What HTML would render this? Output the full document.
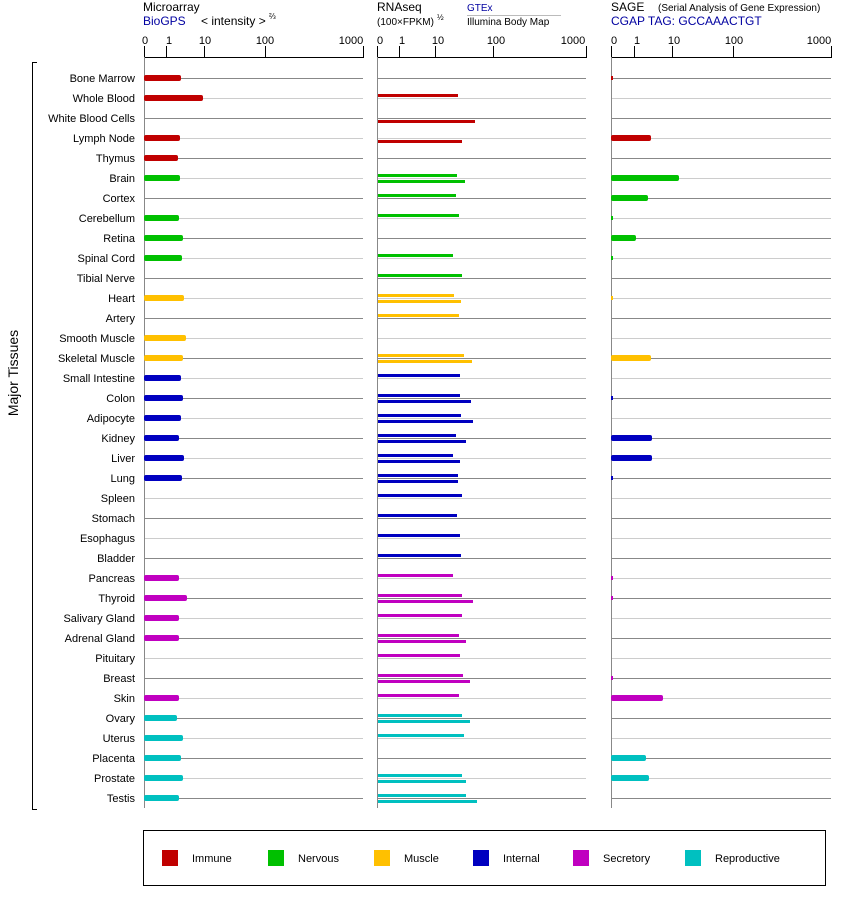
<!DOCTYPE html>
<html><head><meta charset="utf-8"><style>body{margin:0;background:#fff}svg{display:block;font-family:"Liberation Sans",sans-serif}</style></head>
<body>
<svg width="842" height="900" xmlns="http://www.w3.org/2000/svg">
<defs>
<pattern id="rl" patternUnits="userSpaceOnUse" x="0" y="78" width="10" height="40">
<rect x="0" y="0" width="10" height="1" fill="#888"/><rect x="0" y="20" width="10" height="1" fill="#ccc"/>
</pattern>
</defs>
<rect x="144" y="78" width="219" height="721" fill="url(#rl)"/>
<rect x="377" y="78" width="209" height="721" fill="url(#rl)"/>
<rect x="611" y="78" width="220" height="721" fill="url(#rl)"/>
<!-- headers -->
<text x="143" y="11" font-size="12">Microarray</text>
<text x="143" y="25" font-size="12" fill="#0000a0">BioGPS</text>
<text x="201" y="25" font-size="12">&lt; intensity &gt;</text><text x="269" y="19" font-size="8">⅔</text>
<text x="377" y="11" font-size="12">RNAseq</text>
<text x="377" y="25" font-size="10">(100×FPKM)</text><text x="437" y="20" font-size="8">½</text>
<text x="467" y="11" font-size="10" fill="#0000a0">GTEx</text>
<line x1="467" y1="15.5" x2="561" y2="15.5" stroke="#bbb"/>
<text x="467" y="25" font-size="10">Illumina Body Map</text>
<text x="611" y="11" font-size="12">SAGE</text>
<text x="658" y="11" font-size="10">(Serial Analysis of Gene Expression)</text>
<text x="611" y="25" font-size="12" fill="#0000a0">CGAP TAG: GCCAAACTGT</text>
<!-- axes -->
<g stroke="#000" stroke-width="1">
<line x1="144" y1="57.5" x2="364" y2="57.5"/><line x1="377" y1="57.5" x2="587" y2="57.5"/><line x1="611" y1="57.5" x2="832" y2="57.5"/>
<line x1="144.5" y1="46" x2="144.5" y2="58"/><line x1="166.5" y1="46" x2="166.5" y2="58"/><line x1="204.5" y1="46" x2="204.5" y2="58"/><line x1="265.5" y1="46" x2="265.5" y2="58"/><line x1="363.5" y1="46" x2="363.5" y2="58"/>
<line x1="377.5" y1="46" x2="377.5" y2="58"/><line x1="399.5" y1="46" x2="399.5" y2="58"/><line x1="435.5" y1="46" x2="435.5" y2="58"/><line x1="493.5" y1="46" x2="493.5" y2="58"/><line x1="586.5" y1="46" x2="586.5" y2="58"/>
<line x1="611.5" y1="46" x2="611.5" y2="58"/><line x1="634.5" y1="46" x2="634.5" y2="58"/><line x1="672.5" y1="46" x2="672.5" y2="58"/><line x1="733.5" y1="46" x2="733.5" y2="58"/><line x1="831.5" y1="46" x2="831.5" y2="58"/>
</g>
<g stroke="#888"><line x1="144.5" y1="57" x2="144.5" y2="808"/><line x1="377.5" y1="57" x2="377.5" y2="808"/><line x1="611.5" y1="57" x2="611.5" y2="808"/></g>
<g font-size="11" text-anchor="middle">
<text x="145" y="44">0</text><text x="169" y="44">1</text><text x="205" y="44">10</text><text x="265" y="44">100</text><text x="351" y="44">1000</text>
<text x="380" y="44">0</text><text x="402" y="44">1</text><text x="438" y="44">10</text><text x="496" y="44">100</text><text x="573" y="44">1000</text>
<text x="614" y="44">0</text><text x="637" y="44">1</text><text x="674" y="44">10</text><text x="734" y="44">100</text><text x="819" y="44">1000</text>
</g>
<!-- bracket -->
<g stroke="#000"><line x1="32.5" y1="62" x2="32.5" y2="810"/><line x1="32" y1="62.5" x2="37" y2="62.5"/><line x1="32" y1="809.5" x2="37" y2="809.5"/></g>
<text transform="translate(18,373) rotate(-90)" font-size="14" text-anchor="middle">Major Tissues</text>
<!-- labels -->
<g font-size="11" text-anchor="end">
<text x="135" y="82">Bone Marrow</text><text x="135" y="102">Whole Blood</text><text x="135" y="122">White Blood Cells</text><text x="135" y="142">Lymph Node</text><text x="135" y="162">Thymus</text>
<text x="135" y="182">Brain</text><text x="135" y="202">Cortex</text><text x="135" y="222">Cerebellum</text><text x="135" y="242">Retina</text><text x="135" y="262">Spinal Cord</text><text x="135" y="282">Tibial Nerve</text>
<text x="135" y="302">Heart</text><text x="135" y="322">Artery</text><text x="135" y="342">Smooth Muscle</text><text x="135" y="362">Skeletal Muscle</text>
<text x="135" y="382">Small Intestine</text><text x="135" y="402">Colon</text><text x="135" y="422">Adipocyte</text><text x="135" y="442">Kidney</text><text x="135" y="462">Liver</text><text x="135" y="482">Lung</text><text x="135" y="502">Spleen</text><text x="135" y="522">Stomach</text><text x="135" y="542">Esophagus</text><text x="135" y="562">Bladder</text>
<text x="135" y="582">Pancreas</text><text x="135" y="602">Thyroid</text><text x="135" y="622">Salivary Gland</text><text x="135" y="642">Adrenal Gland</text><text x="135" y="662">Pituitary</text><text x="135" y="682">Breast</text><text x="135" y="702">Skin</text>
<text x="135" y="722">Ovary</text><text x="135" y="742">Uterus</text><text x="135" y="762">Placenta</text><text x="135" y="782">Prostate</text><text x="135" y="802">Testis</text>
</g>
<!-- microarray bars -->
<g>
<g fill="#c00000"><rect x="144" y="75" width="37" height="6" rx="2"/><rect x="144" y="95" width="59" height="6" rx="2"/><rect x="144" y="135" width="36" height="6" rx="2"/><rect x="144" y="155" width="34" height="6" rx="2"/></g>
<g fill="#00c000"><rect x="144" y="175" width="36" height="6" rx="2"/><rect x="144" y="215" width="35" height="6" rx="2"/><rect x="144" y="235" width="39" height="6" rx="2"/><rect x="144" y="255" width="38" height="6" rx="2"/></g>
<g fill="#ffc000"><rect x="144" y="295" width="40" height="6" rx="2"/><rect x="144" y="335" width="42" height="6" rx="2"/><rect x="144" y="355" width="39" height="6" rx="2"/></g>
<g fill="#0000c0"><rect x="144" y="375" width="37" height="6" rx="2"/><rect x="144" y="395" width="39" height="6" rx="2"/><rect x="144" y="415" width="37" height="6" rx="2"/><rect x="144" y="435" width="35" height="6" rx="2"/><rect x="144" y="455" width="40" height="6" rx="2"/><rect x="144" y="475" width="38" height="6" rx="2"/></g>
<g fill="#c000c0"><rect x="144" y="575" width="35" height="6" rx="2"/><rect x="144" y="595" width="43" height="6" rx="2"/><rect x="144" y="615" width="35" height="6" rx="2"/><rect x="144" y="635" width="35" height="6" rx="2"/><rect x="144" y="695" width="35" height="6" rx="2"/></g>
<g fill="#00c0c0"><rect x="144" y="715" width="33" height="6" rx="2"/><rect x="144" y="735" width="39" height="6" rx="2"/><rect x="144" y="755" width="37" height="6" rx="2"/><rect x="144" y="775" width="39" height="6" rx="2"/><rect x="144" y="795" width="35" height="6" rx="2"/></g>
</g>
<!-- RNAseq bars -->
<g>
<g fill="#c00000"><rect x="378" y="94" width="80" height="3"/><rect x="378" y="120" width="97" height="3"/><rect x="378" y="140" width="84" height="3"/></g>
<g fill="#00c000"><rect x="378" y="174" width="79" height="3"/><rect x="378" y="180" width="87" height="3"/><rect x="378" y="194" width="78" height="3"/><rect x="378" y="214" width="81" height="3"/><rect x="378" y="254" width="75" height="3"/><rect x="378" y="274" width="84" height="3"/></g>
<g fill="#ffc000"><rect x="378" y="294" width="76" height="3"/><rect x="378" y="300" width="83" height="3"/><rect x="378" y="314" width="81" height="3"/><rect x="378" y="354" width="86" height="3"/><rect x="378" y="360" width="94" height="3"/></g>
<g fill="#0000c0"><rect x="378" y="374" width="82" height="3"/><rect x="378" y="394" width="82" height="3"/><rect x="378" y="400" width="93" height="3"/><rect x="378" y="414" width="83" height="3"/><rect x="378" y="420" width="95" height="3"/><rect x="378" y="434" width="78" height="3"/><rect x="378" y="440" width="88" height="3"/><rect x="378" y="454" width="75" height="3"/><rect x="378" y="460" width="82" height="3"/><rect x="378" y="474" width="80" height="3"/><rect x="378" y="480" width="80" height="3"/><rect x="378" y="494" width="84" height="3"/><rect x="378" y="514" width="79" height="3"/><rect x="378" y="534" width="82" height="3"/><rect x="378" y="554" width="83" height="3"/></g>
<g fill="#c000c0"><rect x="378" y="574" width="75" height="3"/><rect x="378" y="594" width="84" height="3"/><rect x="378" y="600" width="95" height="3"/><rect x="378" y="614" width="84" height="3"/><rect x="378" y="634" width="81" height="3"/><rect x="378" y="640" width="88" height="3"/><rect x="378" y="654" width="82" height="3"/><rect x="378" y="674" width="85" height="3"/><rect x="378" y="680" width="92" height="3"/><rect x="378" y="694" width="81" height="3"/></g>
<g fill="#00c0c0"><rect x="378" y="714" width="84" height="3"/><rect x="378" y="720" width="92" height="3"/><rect x="378" y="734" width="86" height="3"/><rect x="378" y="774" width="84" height="3"/><rect x="378" y="780" width="88" height="3"/><rect x="378" y="794" width="88" height="3"/><rect x="378" y="800" width="99" height="3"/></g>
</g>
<!-- SAGE bars -->
<g>
<g fill="#c00000"><rect x="611" y="76" width="2" height="4"/><rect x="611" y="135" width="40" height="6" rx="2"/></g>
<g fill="#00c000"><rect x="611" y="175" width="68" height="6" rx="2"/><rect x="611" y="195" width="37" height="6" rx="2"/><rect x="611" y="216" width="2" height="4"/><rect x="611" y="235" width="25" height="6" rx="2"/><rect x="611" y="256" width="2" height="4"/></g>
<g fill="#ffc000"><rect x="611" y="296" width="2" height="4"/><rect x="611" y="355" width="40" height="6" rx="2"/></g>
<g fill="#0000c0"><rect x="611" y="396" width="2" height="4"/><rect x="611" y="435" width="41" height="6" rx="2"/><rect x="611" y="455" width="41" height="6" rx="2"/><rect x="611" y="476" width="2" height="4"/></g>
<g fill="#c000c0"><rect x="611" y="576" width="2" height="4"/><rect x="611" y="596" width="2" height="4"/><rect x="611" y="676" width="2" height="4"/><rect x="611" y="695" width="52" height="6" rx="2"/></g>
<g fill="#00c0c0"><rect x="611" y="755" width="35" height="6" rx="2"/><rect x="611" y="775" width="38" height="6" rx="2"/></g>
</g>
<!-- legend -->
<rect x="143.5" y="830.5" width="682" height="55" fill="none" stroke="#000"/>
<g font-size="11">
<rect x="162" y="850" width="16" height="16" fill="#c00000"/><text x="192" y="862">Immune</text>
<rect x="268" y="850" width="16" height="16" fill="#00c000"/><text x="298" y="862">Nervous</text>
<rect x="374" y="850" width="16" height="16" fill="#ffc000"/><text x="404" y="862">Muscle</text>
<rect x="473" y="850" width="16" height="16" fill="#0000c0"/><text x="503" y="862">Internal</text>
<rect x="573" y="850" width="16" height="16" fill="#c000c0"/><text x="603" y="862">Secretory</text>
<rect x="685" y="850" width="16" height="16" fill="#00c0c0"/><text x="715" y="862">Reproductive</text>
</g>
</svg>
</body></html>
